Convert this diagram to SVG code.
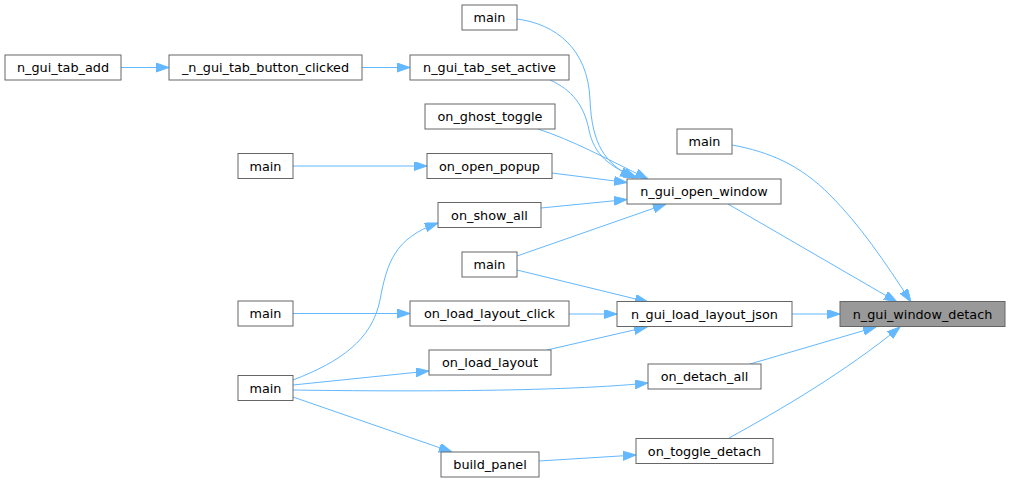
<svg xmlns="http://www.w3.org/2000/svg" width="1011" height="483" viewBox="0 0 1011 483">
<style>
.n rect{fill:#ffffff;stroke:#666666;stroke-width:1}
.n.hl rect{fill:#999999}
.n text{font-family:"DejaVu Sans",sans-serif;font-size:12.8px;fill:#000000;text-anchor:middle}
.e path{fill:none;stroke:#63b8ff;stroke-width:1;marker-end:url(#ah)}
</style>
<defs>
<marker id="ah" markerUnits="userSpaceOnUse" markerWidth="14" markerHeight="10" refX="13" refY="4.5" orient="auto">
<path d="M0,0 L13,4.5 L0,9 z" fill="#63b8ff" stroke="#63b8ff" stroke-width="1"/>
</marker>
</defs>
<rect width="1011" height="483" fill="#ffffff"/>
<g id="edges" class="e">
<path d="M121,67.5 L169,67.5"/>
<path d="M362,67.5 L410,67.5"/>
<path d="M517,19 C555,24 588,48 590,100 C592,145 605,163 633,178"/>
<path d="M550,80 C572,90 584,105 589,130 C594,155 610,167 637,178"/>
<path d="M538,129 C572,140 605,158 648,179"/>
<path d="M552,173 L627,182.5"/>
<path d="M541,208 L627,199.5"/>
<path d="M517,256 L666,204"/>
<path d="M293,166 L427,166"/>
<path d="M293,380 C340,362 372,340 380,300 C387,262 395,238 438,223"/>
<path d="M293,313.5 L410,313.5"/>
<path d="M569,314 L617,314"/>
<path d="M517,270 L648,302"/>
<path d="M547,350 L647,327"/>
<path d="M293,385 L429,371"/>
<path d="M293,390 C360,391 550,393 648,383"/>
<path d="M293,397 L452,452"/>
<path d="M539,461 L636,455"/>
<path d="M792,314 L840,314"/>
<path d="M728,204 L897,302"/>
<path d="M732,145 C770,152 800,165 830,195 C860,225 885,262 911,302"/>
<path d="M750,364 L876,327"/>
<path d="M729,438 C780,410 845,372 900,327"/>
</g>
<g id="n_gui_tab_add" class="n"><rect x="5" y="55" width="116" height="25"/><text x="63" y="72">n_gui_tab_add</text></g>
<g id="n_gui_tab_button_clicked" class="n"><rect x="169" y="55" width="193" height="25"/><text x="265.5" y="72">_n_gui_tab_button_clicked</text></g>
<g id="main_1" class="n"><rect x="238" y="153.5" width="55" height="25"/><text x="265.5" y="170.5">main</text></g>
<g id="main_2" class="n"><rect x="462" y="5" width="55" height="25"/><text x="489.5" y="22">main</text></g>
<g id="n_gui_tab_set_active" class="n"><rect x="410" y="55" width="159" height="25"/><text x="489.5" y="72">n_gui_tab_set_active</text></g>
<g id="on_ghost_toggle" class="n"><rect x="425" y="104" width="130" height="25"/><text x="490" y="121">on_ghost_toggle</text></g>
<g id="on_open_popup" class="n"><rect x="427" y="153.5" width="125" height="25"/><text x="489.5" y="170.5">on_open_popup</text></g>
<g id="on_show_all" class="n"><rect x="438" y="202.5" width="103" height="25"/><text x="489.5" y="219.5">on_show_all</text></g>
<g id="main_3" class="n"><rect x="462" y="252" width="55" height="25"/><text x="489.5" y="269">main</text></g>
<g id="main_4" class="n"><rect x="238" y="301" width="55" height="25"/><text x="265.5" y="318">main</text></g>
<g id="on_load_layout_click" class="n"><rect x="410" y="301" width="159" height="25"/><text x="489.5" y="318">on_load_layout_click</text></g>
<g id="on_load_layout" class="n"><rect x="429" y="350" width="122" height="25"/><text x="490" y="367">on_load_layout</text></g>
<g id="main_5" class="n"><rect x="238" y="375.5" width="55" height="25"/><text x="265.5" y="392.5">main</text></g>
<g id="build_panel" class="n"><rect x="441" y="452" width="98" height="25"/><text x="490" y="469">build_panel</text></g>
<g id="n_gui_open_window" class="n"><rect x="627" y="179" width="154" height="25"/><text x="704" y="196">n_gui_open_window</text></g>
<g id="main_6" class="n"><rect x="677" y="129" width="55" height="25"/><text x="704.5" y="146">main</text></g>
<g id="n_gui_load_layout_json" class="n"><rect x="617" y="301.5" width="175" height="25"/><text x="704.5" y="318.5">n_gui_load_layout_json</text></g>
<g id="on_detach_all" class="n"><rect x="648" y="364" width="113" height="25"/><text x="704.5" y="381">on_detach_all</text></g>
<g id="on_toggle_detach" class="n"><rect x="636" y="438.5" width="137" height="25"/><text x="704.5" y="455.5">on_toggle_detach</text></g>
<g id="n_gui_window_detach" class="n hl"><rect x="840" y="301.5" width="165" height="25"/><text x="922.5" y="318.5">n_gui_window_detach</text></g>
</svg>
